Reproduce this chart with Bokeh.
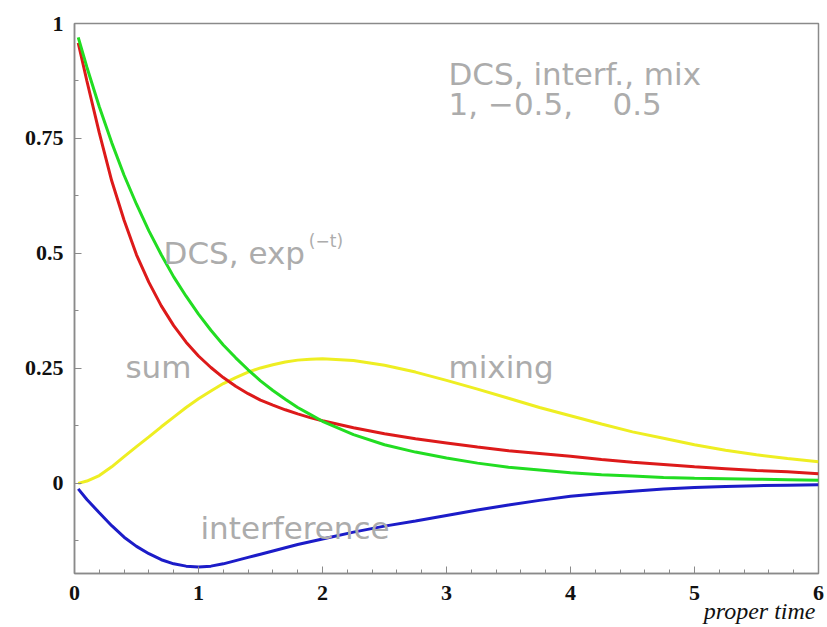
from bokeh.plotting import figure
from bokeh.models import Label, FixedTicker, ColumnDataSource, Title
from bokeh.embed import file_html
from bokeh.resources import INLINE

# proper time samples
t = [0.03, 0.1, 0.2, 0.3, 0.4, 0.5, 0.6, 0.7, 0.8, 0.9, 1.0, 1.1, 1.2, 1.3,
     1.4, 1.5, 1.6, 1.7, 1.8, 1.9, 2.0, 2.25, 2.5, 2.75, 3.0, 3.25, 3.5,
     3.75, 4.0, 4.25, 4.5, 4.75, 5.0, 5.25, 5.5, 5.75, 6.0]

dcs = [0.970, 0.905, 0.819, 0.741, 0.670, 0.607, 0.549, 0.497, 0.449, 0.407,
       0.368, 0.333, 0.301, 0.273, 0.247, 0.223, 0.202, 0.183, 0.165, 0.150,
       0.135, 0.106, 0.084, 0.068, 0.055, 0.044, 0.035, 0.029, 0.023, 0.019,
       0.016, 0.013, 0.011, 0.010, 0.009, 0.008, 0.007]

total = [0.958, 0.875, 0.762, 0.658, 0.572, 0.497, 0.437, 0.386, 0.343, 0.307,
         0.277, 0.252, 0.230, 0.211, 0.195, 0.181, 0.170, 0.160, 0.151, 0.143,
         0.136, 0.121, 0.108, 0.097, 0.088, 0.079, 0.071, 0.065, 0.059, 0.052,
         0.046, 0.041, 0.036, 0.032, 0.028, 0.025, 0.021]

mixing = [0.0, 0.005, 0.017, 0.036, 0.058, 0.080, 0.101, 0.123, 0.144, 0.165,
          0.184, 0.201, 0.217, 0.230, 0.242, 0.251, 0.258, 0.264, 0.268, 0.270,
          0.271, 0.267, 0.257, 0.242, 0.224, 0.205, 0.185, 0.165, 0.147, 0.129,
          0.112, 0.098, 0.084, 0.072, 0.062, 0.054, 0.047]

interference = [-0.012, -0.035, -0.064, -0.092, -0.117, -0.137, -0.153,
                -0.166, -0.175, -0.180, -0.182, -0.180, -0.175, -0.168,
                -0.161, -0.154, -0.147, -0.140, -0.133, -0.127, -0.121,
                -0.106, -0.093, -0.082, -0.070, -0.058, -0.047, -0.037,
                -0.028, -0.022, -0.017, -0.012, -0.009, -0.007, -0.005,
                -0.004, -0.003]

x_ticks = [0, 1, 2, 3, 4, 5, 6]
y_ticks = [0, 0.25, 0.5, 0.75, 1.0]
y_tick_labels = ["0", "0.25", "0.5", "0.75", "1"]

src = ColumnDataSource(dict(t=t, dcs=dcs, total=total, mixing=mixing,
                            interference=interference))

p = figure(width=827, height=627, x_range=(0, 6), y_range=(-0.196, 1.0),
           output_backend="svg", toolbar_location=None,
           min_border_left=74, min_border_right=9, min_border_top=23,
           min_border_bottom=54)
p.title.visible = False
p.background_fill_color = "white"
p.border_fill_color = "white"
p.grid.visible = False
p.outline_line_color = "#8a8a8a"
p.outline_line_width = 1.5

p.line("t", "mixing", source=src, line_color="#eeee22", line_width=3)
p.line("t", "interference", source=src, line_color="#1c1cc8", line_width=3)
p.line("t", "total", source=src, line_color="#dd1a1a", line_width=3)
p.line("t", "dcs", source=src, line_color="#22dd22", line_width=3)

minor_x = [i * 0.2 for i in range(31)]
minor_y = [-0.125 + i * 0.125 for i in range(10)]
p.xaxis.ticker = FixedTicker(ticks=x_ticks, minor_ticks=minor_x)
p.yaxis.ticker = FixedTicker(ticks=y_ticks, minor_ticks=minor_y)
p.yaxis.major_label_overrides = {v: s for v, s in zip(y_ticks, y_tick_labels)}

for ax in (p.xaxis[0], p.yaxis[0]):
    ax.axis_line_color = "#8a8a8a"
    ax.axis_line_width = 1.5
    ax.major_tick_line_color = "#8a8a8a"
    ax.minor_tick_line_color = "#8a8a8a"
    ax.major_tick_in = 7
    ax.major_tick_out = 0
    ax.minor_tick_in = 4
    ax.minor_tick_out = 0
    ax.major_label_text_font = "Liberation Serif"
    ax.major_label_text_font_style = "bold"
    ax.major_label_text_font_size = "22px"
    ax.major_label_text_color = "#111111"

p.xaxis.major_label_standoff = 12
p.yaxis.major_label_standoff = 11

p.add_layout(Title(text="proper time", align="right",
                   text_font="Liberation Serif", text_font_style="italic",
                   text_font_size="24px", text_color="#111111",
                   standoff=-14, offset=3), "below")

gray = "#acacac"
font = "DejaVu Sans"

def add_label(x, y, text, size="31px", color=gray):
    p.add_layout(Label(x=x, y=y, text=text, text_font=font,
                       text_font_size=size, text_color=color,
                       text_align="left", text_baseline="alphabetic"))

nb = "\u00a0"
add_label(3.016, 0.891, "DCS, interf., mix")
add_label(3.016, 0.826, "1," + nb + "\u22120.5," + nb * 4 + "0.5")
add_label(0.718, 0.500, "DCS, exp")
add_label(1.89, 0.528, "(\u2212t)", size="17px")
add_label(0.411, 0.252, "sum")
add_label(3.016, 0.252, "mixing")
add_label(1.016, -0.098, "interference")

open("out.html", "w").write(file_html(p, INLINE))
